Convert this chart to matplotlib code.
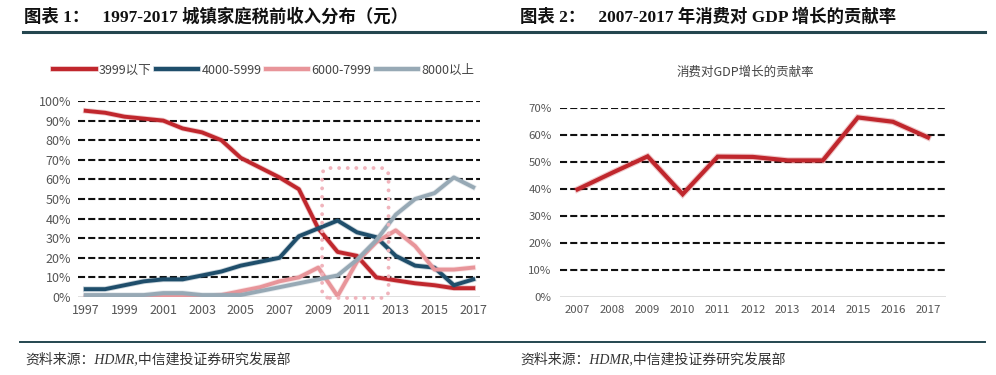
import numpy as np
import matplotlib.pyplot as plt
import matplotlib.patheffects as pe
from matplotlib.patches import FancyBboxPatch
from matplotlib.lines import Line2D

plt.rcParams['font.family'] = ['Noto Sans CJK SC', 'DejaVu Sans']

# 图表1 数据：城镇家庭税前收入分布
years1 = list(range(1997, 2018))
below_3999 = [95, 94, 92, 91, 90, 86, 84, 80, 71, 66, 61, 55, 35, 23, 21, 10, 8.5, 7, 6, 4.5, 4.5]
r4000_5999 = [4, 4, 6, 8, 9, 9, 11, 13, 16, 18, 20, 31, 35, 39, 33, 30.5, 21, 16, 15, 6, 9]
r6000_7999 = [0, 0, 0, 0, 0, 0, 0, 1, 3, 5, 8, 10, 15, 0.5, 18, 28, 34, 26, 14, 14, 15]
above_8000 = [1, 1, 1, 1, 2, 2, 1, 1, 1, 3, 5, 7, 9, 11, 19, 29, 42, 50, 53, 61, 56]
series_names = ['3999以下', '4000-5999', '6000-7999', '8000以上']
series_colors = ['#c0272d', '#1f4e6b', '#e8959a', '#97a9b5']

# 图表2 数据：消费对GDP增长的贡献率
years2 = list(range(2007, 2018))
contrib = [39.8, 46, 52, 38, 51.9, 51.8, 50.5, 50.5, 66.4, 64.8, 59]

W, H = 996, 375
fig = plt.figure(figsize=(W / 100, H / 100), dpi=100)
fig.patch.set_facecolor('white')


def fx(px):
    return px / W


def fy(py):
    return 1 - py / H


# 标题和分割线
title_font = ['Liberation Serif', 'Noto Sans CJK SC']
fig.text(fx(24), fy(17), '图表 1：   1997-2017 城镇家庭税前收入分布（元）', family=title_font,
         fontsize=12.5, fontweight='bold', va='center', ha='left', color='#111111')
fig.text(fx(520), fy(17), '图表 2：   2007-2017 年消费对 GDP 增长的贡献率', family=title_font,
         fontsize=12.5, fontweight='bold', va='center', ha='left', color='#111111')
fig.add_artist(Line2D([fx(23), fx(985)], [fy(32), fy(32)], color='#24464f', lw=2.2))
fig.add_artist(Line2D([fx(20), fx(985)], [fy(342), fy(342)], color='#24464f', lw=1.4))

src_font = ['Liberation Serif', 'Noto Sans CJK SC']
for x0 in (25, 520):
    fig.text(fx(x0), fy(360), '资料来源：HDMR,中信建投证券研究发展部', family=src_font,
             style='italic', fontsize=10, va='center', ha='left', color='#333333')

grid_kw = dict(color='#111111', lw=1.5, linestyle=(0, (3.4, 1.5)))
tick_color = '#555555'

# 左图
ax1 = fig.add_axes([fx(78), fy(297), fx(480) - fx(78), (297 - 101) / H])
all_series = [below_3999, r4000_5999, r6000_7999, above_8000]
for vals, name, c in zip(all_series, series_names, series_colors):
    ln, = ax1.plot(years1, vals, color=c, lw=2.8, label=name, solid_joinstyle='round', zorder=3)
    ln.set_path_effects([pe.Stroke(linewidth=4.0, foreground=c, alpha=0.25), pe.Normal()])
ax1.set_xlim(1996.6, 2017.35)
ax1.set_ylim(0, 100)
for v in range(10, 101, 10):
    ax1.axhline(v, zorder=1, **grid_kw)
ax1.axhline(0, color='#d9d9d9', lw=1.2, zorder=1)
ax1.set_yticks(range(0, 101, 10))
ax1.set_yticklabels([f'{v}%' for v in range(0, 101, 10)])
ax1.set_xticks(years1[::2])
ax1.tick_params(length=0, labelsize=9, colors=tick_color, pad=5)
for s in ax1.spines.values():
    s.set_visible(False)

# 粉色圆点虚线框
box = FancyBboxPatch((2009.2, -0.5), 3.43, 66.3, boxstyle='round,pad=0,rounding_size=0.4',
                     mutation_aspect=9.9, fill=False, ec='#f0b4bc', lw=2.8,
                     linestyle=(0, (0.01, 2.2)), capstyle='round', zorder=4, clip_on=False)
ax1.add_patch(box)

leg = ax1.legend(loc='center left', bbox_to_anchor=(fx(42), fy(70)), bbox_transform=fig.transFigure,
                 ncol=4, frameon=False, fontsize=9, handlelength=3.4, handletextpad=0.25,
                 columnspacing=0.35, labelcolor='#444444')
for h in leg.get_lines():
    h.set_linewidth(3)

# 右图
ax2 = fig.add_axes([fx(560), fy(297), fx(945.5) - fx(560), (297 - 107.7) / H])
ln2, = ax2.plot(years2, contrib, color='#c0272d', lw=3, solid_joinstyle='miter', zorder=3)
ln2.set_path_effects([pe.Stroke(linewidth=4.6, foreground='#c0272d', alpha=0.25), pe.Normal()])
ax2.set_xlim(2006.5, 2017.5)
ax2.set_ylim(0, 70)
for v in range(10, 71, 10):
    ax2.axhline(v, zorder=1, **grid_kw)
ax2.axhline(0, color='#d9d9d9', lw=1.2, zorder=1)
ax2.set_yticks(range(0, 71, 10))
ax2.set_yticklabels([f'{v}%' for v in range(0, 71, 10)])
ax2.set_xticks(years2)
ax2.tick_params(length=0, labelsize=8.2, colors=tick_color, pad=6)
for s in ax2.spines.values():
    s.set_visible(False)
fig.text(fx(745), fy(72), '消费对GDP增长的贡献率', fontsize=9, ha='center', va='center', color='#444444')

fig.savefig('out.png', dpi=100, facecolor='white')
